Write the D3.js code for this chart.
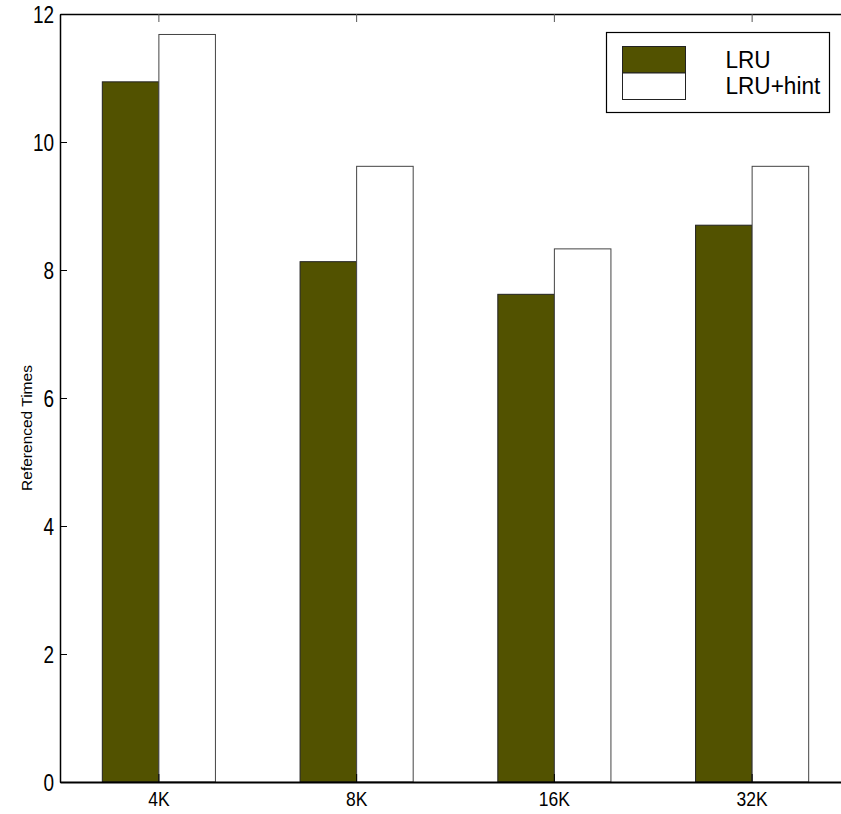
<!DOCTYPE html>
<html>
<head>
<meta charset="utf-8">
<script src="https://cdn.jsdelivr.net/npm/d3@7"></script>
<style>
  html, body { margin: 0; padding: 0; background: #fff; }
  svg { display: block; }
  text { font-family: "Liberation Sans", Arial, sans-serif; fill: #000; }
</style>
</head>
<body>
<svg id="chart" width="841" height="814"></svg>
<script>
const categories = ["4K", "8K", "16K", "32K"];
const seriesNames = ["LRU", "LRU+hint"];
const lruValues = [10.94, 8.13, 7.62, 8.70];
const hintValues = [11.68, 9.62, 8.33, 9.62];
const yTicks = [0, 2, 4, 6, 8, 10, 12];
const colors = ["#525200", "#ffffff"];
const strokes = ["#222222", "#444444"];

const svg = d3.select("#chart");
const mLeft = 60, mTop = 14, mBottom = 782, mRight = 851;

const x = d3.scaleBand().domain(categories).range([mLeft, mRight]).paddingInner(0).paddingOuter(0);
const groupW = x.bandwidth() * 0.572;
const x1 = d3.scaleBand().domain(seriesNames).range([0, groupW]);
const y = d3.scaleLinear().domain([0, 12]).range([mBottom, mTop]);

const series = [lruValues, hintValues];

// bars
seriesNames.forEach((s, si) => {
  svg.append("g").selectAll("rect")
    .data(categories.map((c, i) => ({ c, v: series[si][i] })))
    .join("rect")
    .attr("x", d => x(d.c) + x.bandwidth() / 2 - groupW / 2 + x1(s))
    .attr("y", d => y(d.v))
    .attr("width", x1.bandwidth())
    .attr("height", d => y(0) - y(d.v))
    .attr("fill", colors[si])
    .attr("stroke", strokes[si])
    .attr("stroke-width", 1);
});

// left axis
const syY = 1.25;
const yAxis = d3.axisLeft(y).tickValues(yTicks).tickSizeInner(-7).tickSizeOuter(0);
const gy = svg.append("g").attr("transform", `translate(${mLeft},0)`).call(yAxis);
gy.select(".domain").attr("stroke", "#000").attr("stroke-width", 1.5);
gy.selectAll(".tick line").attr("stroke", "#000");
gy.selectAll(".tick text")
  .style("font-size", "19px").style("font-family", "Liberation Sans, Arial, sans-serif")
  .attr("x", -6).attr("dy", 0).attr("y", 8.5 / syY)
  .attr("text-anchor", "end")
  .attr("transform", `scale(1,${syY})`);

// bottom axis
const syX = 1.14;
const xAxis = d3.axisBottom(x).tickSizeInner(-8).tickSizeOuter(0);
const gx = svg.append("g").attr("transform", `translate(0,${mBottom})`).call(xAxis);
gx.select(".domain").attr("stroke", "#000").attr("stroke-width", 2);
gx.selectAll(".tick line").attr("stroke", "#000");
gx.selectAll(".tick text")
  .style("font-size", "17.5px").style("font-family", "Liberation Sans, Arial, sans-serif")
  .attr("dy", 0).attr("y", 24 / syX)
  .attr("transform", `scale(1,${syX})`);

// top axis (box)
const xTop = d3.axisTop(x).tickSizeInner(-8).tickSizeOuter(0).tickFormat("");
const gt = svg.append("g").attr("transform", `translate(0,${mTop})`).call(xTop);
gt.select(".domain").attr("stroke", "#000").attr("stroke-width", 1.5);
gt.selectAll(".tick line").attr("stroke", "#555");

// y label
svg.append("text")
  .attr("transform", "translate(31.5,428) rotate(-90)")
  .attr("text-anchor", "middle")
  .style("font-size", "15.5px")
  .text("Referenced Times");

// legend
const lg = svg.append("g");
lg.append("rect").attr("x", 606.5).attr("y", 32.5).attr("width", 223).attr("height", 80)
  .attr("fill", "#fff").attr("stroke", "#000").attr("stroke-width", 1.2);
const syL = 1.07;
seriesNames.forEach((s, i) => {
  lg.append("rect").attr("x", 622.5).attr("y", 46.5 + i * 26.5).attr("width", 63).attr("height", 26.5)
    .attr("fill", colors[i]).attr("stroke", "#222").attr("stroke-width", 1);
  lg.append("text").attr("x", 725.5).attr("y", (68 + i * 26) / syL)
    .attr("transform", `scale(1,${syL})`)
    .style("font-size", "22.6px").text(s);
});
</script>
</body>
</html>
